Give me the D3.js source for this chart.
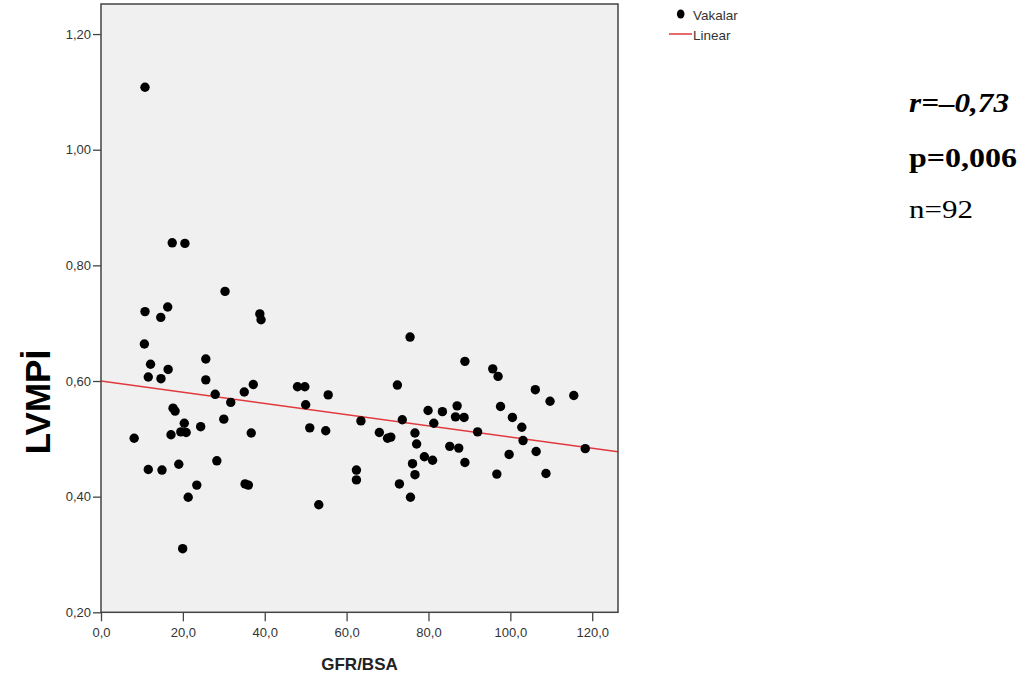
<!DOCTYPE html>
<html>
<head>
<meta charset="utf-8">
<script src="https://cdn.jsdelivr.net/npm/d3@7.9.0/dist/d3.min.js"></script>
<style>
  body { margin: 0; background: #fff; }
  svg { display: block; }
  .tick text { font-family: "Liberation Sans", Arial, sans-serif; font-size: 13px; fill: #333; }
  .tick line { stroke: #444; stroke-width: 1.3; }
</style>
</head>
<body>
<svg id="chart" width="1033" height="682"></svg>
<script>
// GFR/BSA vs LVMPİ
const gfr = [10.75, 17.4, 20.5, 30.3, 10.75, 16.3, 14.6, 38.8, 39.1, 10.6,
  25.6, 12.1, 16.4, 11.55, 14.65, 25.6, 48.0, 49.8, 37.2, 35.0,
  27.9, 31.7, 17.6, 18.1, 30.0, 20.35, 19.5, 20.8, 17.1, 24.35,
  36.7, 8.1, 11.55, 14.9, 19.0, 28.3, 23.4, 35.2, 36.0, 21.3,
  19.95, 75.5, 88.9, 55.5, 72.4, 50.0, 63.5, 73.6, 79.9, 83.4,
  87.0, 86.6, 88.7, 81.3, 92.0, 51.0, 54.9, 68.0, 70.0, 70.8,
  76.7, 77.1, 85.2, 87.4, 79.0, 81.0, 88.9, 76.1, 76.7, 62.4,
  62.4, 72.9, 75.6, 53.2, 95.7, 97.0, 106.1, 109.7, 115.5, 97.6,
  100.5, 102.8, 103.1, 99.7, 106.3, 118.3, 96.7, 108.7];
const lvmpi = [1.108, 0.839, 0.838, 0.755, 0.720, 0.728, 0.710, 0.716, 0.706, 0.664,
  0.638, 0.629, 0.620, 0.607, 0.604, 0.602, 0.590, 0.590, 0.594, 0.581,
  0.577, 0.563, 0.553, 0.548, 0.534, 0.527, 0.512, 0.511, 0.507, 0.521,
  0.510, 0.501, 0.447, 0.446, 0.456, 0.462, 0.420, 0.422, 0.420, 0.399,
  0.310, 0.676, 0.634, 0.576, 0.593, 0.559, 0.531, 0.533, 0.549, 0.547,
  0.557, 0.538, 0.537, 0.527, 0.512, 0.519, 0.514, 0.511, 0.501, 0.503,
  0.510, 0.491, 0.487, 0.484, 0.469, 0.463, 0.459, 0.457, 0.438, 0.446,
  0.429, 0.422, 0.399, 0.386, 0.621, 0.608, 0.585, 0.565, 0.575, 0.556,
  0.537, 0.520, 0.497, 0.473, 0.478, 0.483, 0.439, 0.440];

const xTicks = [0, 20, 40, 60, 80, 100, 120];
const yTicks = [0.2, 0.4, 0.6, 0.8, 1.0, 1.2];
const fit = { intercept: 0.600, slope: -0.00097 };   // linear fit line
const stats = ['r=\u20130,73', 'p=0,006', 'n=92'];
const legendLabels = ['Vakalar', 'Linear'];

const svg = d3.select('#chart');
const plotL = 101, plotT = 4, plotR = 618, plotB = 612.3;

const x = d3.scaleLinear().domain([0, 126.3]).range([plotL, plotR]);
const y = d3.scaleLinear().domain([0.2, 1.252]).range([plotB, plotT]);

// plot area
svg.append('rect')
  .attr('x', plotL).attr('y', plotT)
  .attr('width', plotR - plotL).attr('height', plotB - plotT)
  .attr('fill', '#f0f0f0');

const comma = (d, n) => d.toFixed(n).replace('.', ',');

svg.append('g')
  .attr('transform', `translate(${plotL},0)`)
  .call(d3.axisLeft(y).tickValues(yTicks).tickSize(8).tickPadding(2)
    .tickFormat(d => comma(d, 2)))
  .call(g => g.select('.domain').remove());

svg.append('g')
  .attr('transform', `translate(0,${plotB})`)
  .call(d3.axisBottom(x).tickValues(xTicks).tickSize(9).tickPadding(6)
    .tickFormat(d => comma(d, 1)))
  .call(g => g.select('.domain').remove());

// regression line across the full x range
const xd = x.domain();
svg.append('line')
  .attr('x1', x(xd[0])).attr('y1', y(fit.intercept + fit.slope * xd[0]))
  .attr('x2', x(xd[1])).attr('y2', y(fit.intercept + fit.slope * xd[1]))
  .attr('stroke', '#e0393e')
  .attr('stroke-width', 1.5);

svg.append('g')
  .selectAll('circle')
  .data(gfr.map((g, i) => [g, lvmpi[i]]))
  .join('circle')
  .attr('cx', d => x(d[0]))
  .attr('cy', d => y(d[1]))
  .attr('r', 4.7)
  .attr('fill', '#000');

// frame
svg.append('rect')
  .attr('x', plotL).attr('y', plotT)
  .attr('width', plotR - plotL).attr('height', plotB - plotT)
  .attr('fill', 'none')
  .attr('stroke', '#444')
  .attr('stroke-width', 1.5);

// axis titles
svg.append('text')
  .attr('x', (plotL + plotR) / 2).attr('y', 670)
  .attr('text-anchor', 'middle')
  .style('font-family', '"Liberation Sans", Arial, sans-serif')
  .style('font-weight', 'bold').style('font-size', '17px')
  .attr('fill', '#222')
  .text('GFR/BSA');

svg.append('text')
  .attr('transform', 'translate(50,402) rotate(-90)')
  .attr('text-anchor', 'middle')
  .style('font-family', '"Liberation Sans", Arial, sans-serif')
  .style('font-weight', 'bold').style('font-size', '35px')
  .attr('fill', '#000')
  .text('LVMPİ');

// legend
const lg = svg.append('g').style('font-family', '"Liberation Sans", Arial, sans-serif')
  .style('font-size', '13.5px');
lg.append('ellipse').attr('cx', 680.7).attr('cy', 14).attr('rx', 3.8).attr('ry', 4.6).attr('fill', '#000');
lg.append('text').attr('x', 693).attr('y', 20).attr('fill', '#333').text(legendLabels[0]);
lg.append('line').attr('x1', 669).attr('x2', 692).attr('y1', 34).attr('y2', 34)
  .attr('stroke', '#e0393e').attr('stroke-width', 1.5);
lg.append('text').attr('x', 693).attr('y', 39.5).attr('fill', '#333').text(legendLabels[1]);

// statistics text
const st = svg.append('g').style('font-family', '"Liberation Serif", "Times New Roman", serif');
st.append('text').attr('x', 909).attr('y', 112)
  .attr('textLength', 100).attr('lengthAdjust', 'spacingAndGlyphs')
  .style('font-size', '27px').style('font-weight', 'bold').style('font-style', 'italic')
  .text(stats[0]);
st.append('text').attr('x', 909).attr('y', 167)
  .attr('textLength', 108).attr('lengthAdjust', 'spacingAndGlyphs')
  .style('font-size', '27px').style('font-weight', 'bold')
  .text(stats[1]);
st.append('text').attr('x', 909).attr('y', 218)
  .attr('textLength', 64).attr('lengthAdjust', 'spacingAndGlyphs')
  .style('font-size', '26px')
  .text(stats[2]);
</script>
</body>
</html>
